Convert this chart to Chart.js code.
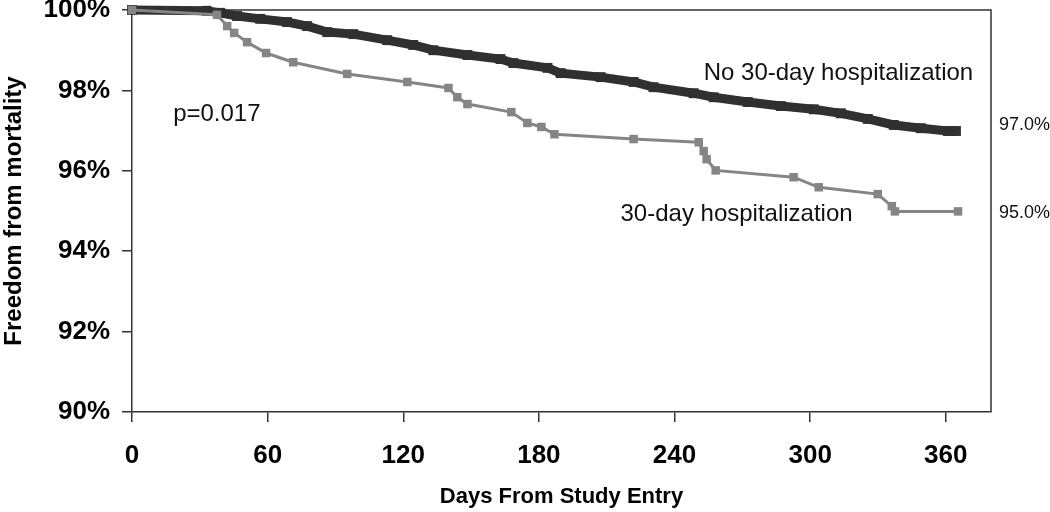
<!DOCTYPE html>
<html>
<head>
<meta charset="utf-8">
<script src="https://cdn.jsdelivr.net/npm/chart.js@4.4.1/dist/chart.umd.min.js"></script>
<style>
html, body { margin: 0; padding: 0; background: #fff; }
</style>
</head>
<body>
<canvas id="km" width="1050" height="512"></canvas>
<script>
// survival curves (day, % free from mortality)
const noHospDays = [0, 33, 39, 46.5, 56.7, 68.6, 77.5, 86.4, 97.9, 112.9, 124.4, 133.3, 148.4, 163, 168.7, 183.8, 189.6, 207.3, 221.9, 230.7, 248.5, 257.3, 272.4, 287, 301.6, 313.6, 325.5, 337, 349, 360.9, 364.5];
const noHospSurv = [100, 99.98, 99.93, 99.85, 99.78, 99.70, 99.60, 99.45, 99.40, 99.25, 99.13, 99.00, 98.88, 98.78, 98.68, 98.56, 98.43, 98.33, 98.21, 98.08, 97.93, 97.83, 97.71, 97.61, 97.53, 97.43, 97.29, 97.14, 97.06, 96.99, 96.99];

const hospDays = [0, 37.6, 42.1, 45.2, 50.9, 59.3, 71.3, 95.2, 121.8, 140, 143.9, 148.4, 167.8, 174.9, 181.1, 186.9, 221.9, 250.7, 252.9, 254.2, 258.2, 292.7, 303.8, 329.9, 336.1, 337.5, 365.4];
const hospSurv = [100, 99.88, 99.60, 99.43, 99.20, 98.93, 98.70, 98.41, 98.21, 98.06, 97.83, 97.66, 97.46, 97.19, 97.09, 96.91, 96.79, 96.71, 96.49, 96.29, 96.01, 95.84, 95.59, 95.42, 95.12, 94.99, 94.99];

const xTicks = [0, 60, 120, 180, 240, 300, 360];
const yTicks = [90, 92, 94, 96, 98, 100];

// text placed in data coordinates
const notes = [
    { text: 'p=0.017', x: 18.2, y: 97.41, size: 24 },
    { text: 'No 30-day hospitalization', x: 252.9, y: 98.42, size: 24 },
    { text: '30-day hospitalization', x: 216.1, y: 94.92, size: 24 },
    { text: '97.0%', x: 383.5, y: 97.14, size: 18 },
    { text: '95.0%', x: 383.5, y: 94.96, size: 18 }
];

const FONT = '"Liberation Sans", Arial, Helvetica, sans-serif';
const AXIS = '#333';

function toPoints(xs, ys) {
    return xs.map((x, i) => ({ x: x, y: ys[i] }));
}

// box lines on top and right, plus the free text
const framePlugin = {
    id: 'frame',
    beforeDatasetsDraw(chart) {
        const { ctx, chartArea } = chart;
        ctx.save();
        ctx.strokeStyle = AXIS;
        ctx.lineWidth = 1.5;
        ctx.beginPath();
        ctx.moveTo(chartArea.left, chartArea.top);
        ctx.lineTo(chartArea.right, chartArea.top);
        ctx.lineTo(chartArea.right, chartArea.bottom);
        ctx.stroke();
        ctx.restore();
    },
    afterDraw(chart) {
        const { ctx } = chart;
        const xs = chart.scales.x;
        const ys = chart.scales.y;
        ctx.save();
        ctx.fillStyle = '#111';
        ctx.textAlign = 'left';
        ctx.textBaseline = 'middle';
        notes.forEach(n => {
            ctx.font = n.size + 'px ' + FONT;
            ctx.fillText(n.text, xs.getPixelForValue(n.x), ys.getPixelForValue(n.y));
        });
        ctx.restore();
    }
};

new Chart(document.getElementById('km').getContext('2d'), {
    type: 'line',
    data: {
        datasets: [
            {
                label: 'No 30-day hospitalization',
                data: toPoints(noHospDays, noHospSurv),
                borderColor: '#303030',
                backgroundColor: '#303030',
                borderWidth: 9,
                pointStyle: 'rect',
                pointRadius: 7,
                pointBorderWidth: 0,
                tension: 0,
                clip: false,
                order: 1
            },
            {
                label: '30-day hospitalization',
                data: toPoints(hospDays, hospSurv),
                borderColor: '#858585',
                backgroundColor: '#858585',
                borderWidth: 3,
                pointStyle: 'rect',
                pointRadius: 6,
                pointBorderWidth: 0,
                tension: 0,
                clip: false,
                order: 0
            }
        ]
    },
    options: {
        responsive: false,
        animation: false,
        layout: { padding: { top: 10, right: 59, left: 0, bottom: 0 } },
        plugins: {
            legend: { display: false },
            tooltip: { enabled: false }
        },
        scales: {
            x: {
                type: 'linear',
                min: 0,
                max: 380,
                afterBuildTicks: s => { s.ticks = xTicks.map(v => ({ value: v })); },
                afterFit: s => { s.height = 100; s.paddingLeft = 0; s.paddingRight = 0; },
                grid: { drawOnChartArea: false, drawTicks: true, tickLength: 10, color: AXIS, lineWidth: 1.5 },
                border: { display: true, color: AXIS, width: 1.5 },
                ticks: {
                    padding: 18,
                    color: '#000',
                    maxRotation: 0,
                    font: { family: FONT, size: 26, weight: 'bold' }
                },
                title: {
                    display: true,
                    text: 'Days From Study Entry',
                    color: '#000',
                    padding: { top: 0, bottom: 2 },
                    font: { family: FONT, size: 22, weight: 'bold' }
                }
            },
            y: {
                min: 90,
                max: 100,
                afterBuildTicks: s => { s.ticks = yTicks.map(v => ({ value: v })); },
                afterFit: s => { s.width = 132; s.paddingTop = 0; s.paddingBottom = 0; },
                grid: { drawOnChartArea: false, drawTicks: true, tickLength: 10, color: AXIS, lineWidth: 1.5 },
                border: { display: true, color: AXIS, width: 1.5 },
                ticks: {
                    padding: 12,
                    color: '#000',
                    callback: v => v + '%',
                    font: { family: FONT, size: 26, weight: 'bold' }
                },
                title: {
                    display: true,
                    text: 'Freedom from mortality',
                    color: '#000',
                    padding: { top: 0, bottom: 0 },
                    font: { family: FONT, size: 24, weight: 'bold' }
                }
            }
        }
    },
    plugins: [framePlugin]
});
</script>
</body>
</html>
